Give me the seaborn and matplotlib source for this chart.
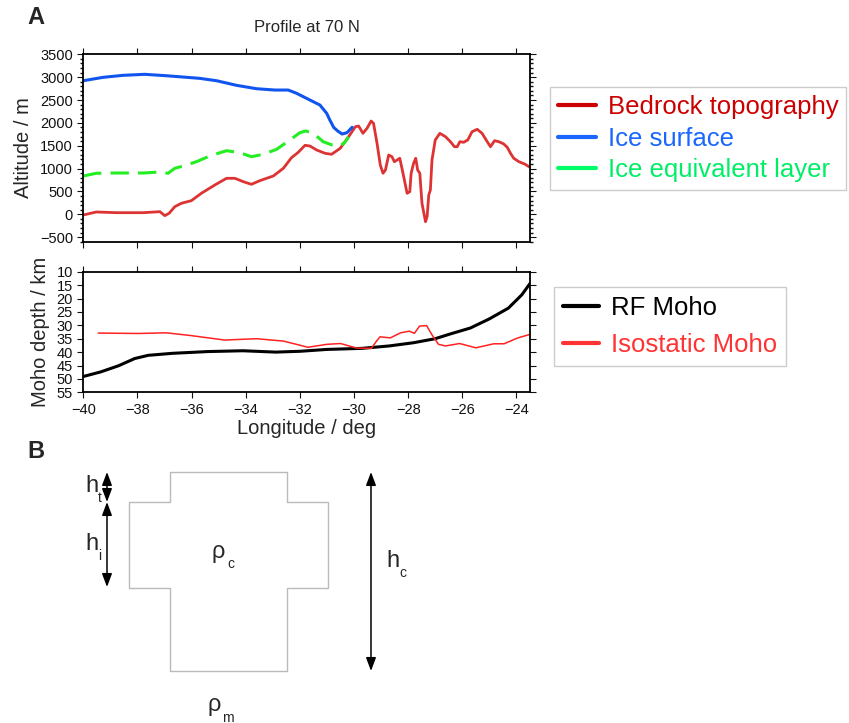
import numpy as np
import pandas as pd
import seaborn as sns
import matplotlib.pyplot as plt
from matplotlib.lines import Line2D
from matplotlib.ticker import MultipleLocator

# profile at 70 N
bed_lon = [-40.0, -39.52, -38.78, -37.79, -37.17, -36.99, -36.83, -36.62, -36.38, -36.01,
           -35.64, -35.14, -34.71, -34.40, -34.09, -33.79, -33.48, -32.98, -32.61, -32.31,
           -32.06, -31.81, -31.63, -31.38, -31.07, -30.83, -30.51, -30.20, -29.95, -29.83,
           -29.67, -29.52, -29.37, -29.28, -29.15, -29.03, -28.93, -28.84, -28.72, -28.60,
           -28.51, -28.41, -28.31, -28.23, -28.14, -28.04, -27.94, -27.89, -27.80, -27.72,
           -27.65, -27.57, -27.49, -27.36, -27.30, -27.24, -27.18, -27.12, -27.00, -26.83,
           -26.62, -26.44, -26.29, -26.19, -26.09, -25.95, -25.80, -25.64, -25.45, -25.27,
           -25.08, -24.96, -24.81, -24.65, -24.47, -24.34, -24.22, -24.10, -23.91, -23.70,
           -23.50]
bed_alt = [-15, 50, 35, 35, 57, -30, 22, 166, 240, 297,
           459, 641, 787, 787, 713, 656, 735, 838, 1006, 1238,
           1356, 1509, 1494, 1406, 1334, 1312, 1443, 1697, 1916, 1931,
           1771, 1881, 2040, 1990, 1553, 1078, 897, 969, 1297, 1260,
           1150, 1187, 1225, 1006, 750, 459, 494, 897, 1115, 1225,
           969, 897, 240, -162, -52, 422, 531, 1187, 1625, 1771,
           1697, 1588, 1478, 1478, 1588, 1575, 1625, 1806, 1859, 1771,
           1588, 1478, 1610, 1588, 1538, 1465, 1334, 1225, 1150, 1100,
           1028]

ice_lon = [-40.0, -39.27, -38.53, -37.73, -36.93, -35.70, -35.08, -34.34, -33.60, -32.92,
           -32.43, -32.12, -31.63, -31.26, -31.01, -30.90, -30.75, -30.60, -30.44, -30.26,
           -30.07]
ice_alt = [2922, 2996, 3040, 3062, 3031, 2974, 2922, 2821, 2747, 2718,
           2718, 2646, 2500, 2390, 2209, 2070, 1900, 1820, 1756, 1785,
           1903]

eq_lon = [-40.0, -39.52, -38.78, -37.79, -37.17, -36.87, -36.62, -36.31, -35.82, -35.33,
          -34.71, -34.22, -33.79, -33.35, -32.86, -32.37, -32.00, -31.78, -31.50, -31.14,
          -30.83, -30.51, -30.32, -30.20]
eq_alt = [838, 897, 903, 903, 925, 897, 1006, 1056, 1150, 1275,
          1391, 1347, 1260, 1312, 1421, 1625, 1785, 1822, 1771, 1588,
          1520, 1494, 1588, 1697]

rf_lon = [-40.0, -39.36, -38.7, -38.1, -37.6, -36.7, -35.4, -34.1, -32.9, -32.0,
          -31.0, -29.7, -28.7, -27.8, -27.0, -26.5, -25.7, -25.0, -24.3, -23.8, -23.5]
rf_dep = [49.1, 47.4, 45.1, 42.4, 41.2, 40.45, 39.8, 39.5, 40.0, 39.7,
          39.0, 38.6, 37.7, 36.5, 35.0, 33.4, 31.0, 27.6, 23.6, 18.6, 14.4]

iso_lon = [-39.45, -37.96, -36.94, -36.05, -34.78, -33.6, -32.6, -31.7, -31.0, -30.5,
           -29.9, -29.36, -29.17, -29.04, -28.66, -28.28, -27.96, -27.77, -27.58, -27.32,
           -27.13, -26.88, -26.62, -26.1, -25.5, -24.84, -24.46, -23.95, -23.5]
iso_dep = [32.9, 33.05, 32.8, 33.8, 35.5, 35.0, 35.9, 38.2, 37.1, 36.8,
           38.5, 38.6, 35.9, 34.3, 34.7, 32.8, 32.2, 33.0, 30.3, 30.1,
           33.4, 37.1, 37.7, 36.8, 38.4, 36.9, 36.9, 34.7, 33.4]

top_labels = ["Bedrock topography", "Ice surface", "Ice equivalent layer"]
bot_labels = ["RF Moho", "Isostatic Moho"]

sns.set_theme(style="ticks")
plt.rcParams['font.family'] = ['Liberation Sans', 'DejaVu Sans']
plt.rcParams.update({
    "axes.linewidth": 1.3, "axes.edgecolor": "black",
    "xtick.direction": "out", "ytick.direction": "out",
    "xtick.major.size": 4, "ytick.major.size": 4,
    "xtick.minor.size": 2, "ytick.minor.size": 2,
    "xtick.major.width": 0.8, "ytick.major.width": 0.8,
    "xtick.labelsize": 10.5, "ytick.labelsize": 10.5,
    "xtick.color": "#111111", "ytick.color": "#111111",
})

W, H = 849, 723
fig = plt.figure(figsize=(W / 100, H / 100), dpi=100)

def box(x0, y0, x1, y1):
    return [x0 / W, 1 - y1 / H, (x1 - x0) / W, (y1 - y0) / H]

ax1 = fig.add_axes(box(83.3, 54.3, 530, 241.7))
ax2 = fig.add_axes(box(83.3, 271.7, 530, 392.3))

c_bed, c_ice, c_eq = "#dd3333", "#1155ee", "#22ee22"

sns.lineplot(x=bed_lon, y=bed_alt, ax=ax1, color=c_bed, linewidth=2.0, estimator=None, sort=False)
sns.lineplot(x=ice_lon, y=ice_alt, ax=ax1, color=c_ice, linewidth=2.2, estimator=None, sort=False)
sns.lineplot(x=eq_lon, y=eq_alt, ax=ax1, color=c_eq, linewidth=2.2, estimator=None, sort=False)
ax1.lines[-1].set_dashes([6, 3])

sns.lineplot(x=rf_lon, y=rf_dep, ax=ax2, color="black", linewidth=2.2, estimator=None, sort=False)
sns.lineplot(x=iso_lon, y=iso_dep, ax=ax2, color="#ff2222", linewidth=1.1, estimator=None, sort=False)

for ax in (ax1, ax2):
    ax.set_xlim(-40, -23.5)
    ax.xaxis.set_major_locator(MultipleLocator(2))
    ax.tick_params(top=True, right=True, which="both")

ax1.set_ylim(-600, 3500)
ax1.yaxis.set_major_locator(MultipleLocator(500))
ax1.yaxis.set_minor_locator(MultipleLocator(100))
ax1.tick_params(labelbottom=False)
ax1.set_ylabel("Altitude / m", fontsize=14.5, labelpad=5)

ax2.set_ylim(55, 10)
ax2.yaxis.set_major_locator(MultipleLocator(5))
ax2.set_xticks(np.arange(-40, -23, 2))
ax2.set_xticklabels([str(v).replace("-", "\u2212") for v in range(-40, -23, 2)])
ax2.set_ylabel("Moho depth / km", fontsize=14.5, labelpad=5)
ax2.set_xlabel("Longitude / deg", fontsize=14.5, labelpad=2)

fig.text(306.7 / W, 1 - 27 / H, "Profile at 70 N", fontsize=12, ha="center", va="center")
fig.text(27 / W, 1 - 18 / H, "A", fontsize=17, fontweight="bold", va="center")
fig.text(27 / W, 1 - 451 / H, "B", fontsize=17, fontweight="bold", va="center")

# legends
h1 = [Line2D([], [], color=c, lw=3) for c in ["#cc0000", "#1a66ff", "#00ff66"]]
leg1 = ax1.legend(h1, top_labels, loc="upper left", bbox_to_anchor=(550 / W, 1 - 87.3 / H),
                  bbox_transform=fig.transFigure, fontsize=18.5, frameon=True, fancybox=False,
                  edgecolor="#cccccc", framealpha=1, borderpad=0.3, labelspacing=0.3,
                  handlelength=1.5, handletextpad=0.45, borderaxespad=0)
for t, c in zip(leg1.get_texts(), ["#cc0000", "#1a66ff", "#00ee66"]):
    t.set_color(c)

h2 = [Line2D([], [], color=c, lw=3) for c in ["black", "#ff3333"]]
leg2 = ax2.legend(h2, bot_labels, loc="upper left", bbox_to_anchor=(554 / W, 1 - 287.3 / H),
                  bbox_transform=fig.transFigure, fontsize=18.5, frameon=True, fancybox=False,
                  edgecolor="#cccccc", framealpha=1, borderpad=0.35, labelspacing=0.5,
                  handlelength=1.4, handletextpad=0.45, borderaxespad=0)
for t, c in zip(leg2.get_texts(), ["black", "#ff3333"]):
    t.set_color(c)

# panel B sketch, drawn in pixel units
axb = fig.add_axes([0, 0, 1, 1], zorder=-1)
axb.set_xlim(0, W)
axb.set_ylim(H, 0)
axb.axis("off")

block_x = [170, 287, 287, 328, 328, 287, 287, 170, 170, 129, 129, 170, 170]
block_y = [472, 472, 502, 502, 588, 588, 671, 671, 588, 588, 502, 502, 472]
axb.plot(block_x, block_y, color="#bbbbbb", lw=1)

arrows = [(107, 472, 502), (107, 502, 587), (371, 472, 671)]
for x, y0, y1 in arrows:
    axb.annotate("", xy=(x, y0), xytext=(x, y1),
                 arrowprops=dict(arrowstyle="<|-|>,head_length=0.8,head_width=0.3",
                                 color="black", lw=1.1, shrinkA=0, shrinkB=0, mutation_scale=10))

labels_b = [("h", "t", 85, 491.5, 98, 501.5), ("h", "i", 85, 550, 98, 560),
            ("\u03c1", "c", 212, 558, 227, 568.5), ("h", "c", 386, 567, 399, 577),
            ("\u03c1", "m", 208, 711.5, 222, 721.5)]
for main, sub, x, y, xs, ys in labels_b:
    axb.text(x, y, main, fontsize=17, ha="left", va="baseline")
    axb.text(xs, ys, sub, fontsize=10, ha="left", va="baseline")

fig.savefig("out.png", dpi=100)
